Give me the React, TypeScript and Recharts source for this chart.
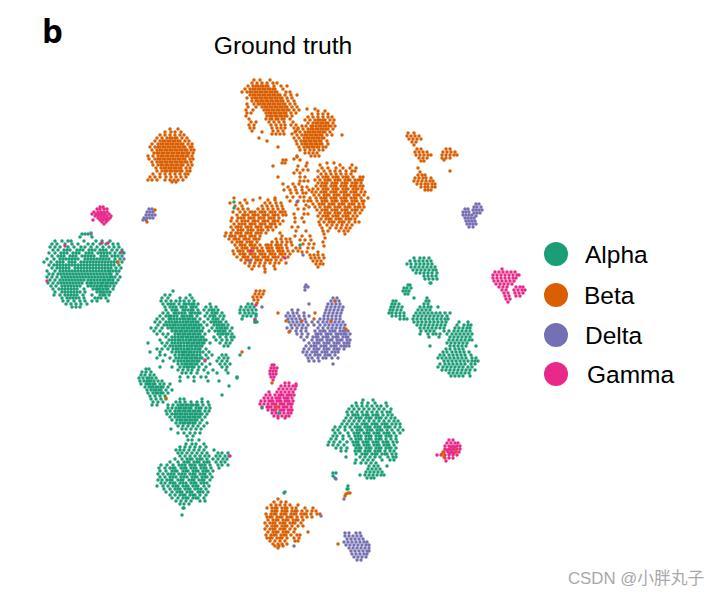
import React from "react";
import { ScatterChart, Scatter, XAxis, YAxis } from "recharts";

type Row = [number, number[]];
const spread = (groups: Row[][]) =>
  groups.flatMap((g) => g.flatMap(([y, xs]) => xs.map((x) => ({ x, y }))));

// each row: [y, [x, x, ...]]
const alphaLeft: Row[] = [
  [234, [82, 85, 88, 91]], [237, [80, 92]],
  [241, [55, 62, 68, 71, 84, 96, 102, 110]],
  [244, [52, 57, 65, 72, 78, 88, 93, 100, 106, 113, 118]],
  [247, [50, 55, 60, 68, 74, 81, 85, 91, 97, 103, 109, 114, 119]],
  [250, [53, 58, 64, 70, 77, 83, 89, 95, 100, 106, 112, 117, 122]],
  [253, [49, 55, 61, 67, 73, 79, 86, 92, 98, 104, 110, 115, 120, 124]],
  [256, [52, 58, 64, 70, 76, 82, 88, 94, 101, 107, 112, 118, 122]],
  [259, [47, 54, 60, 66, 72, 78, 85, 91, 97, 103, 109, 115, 120]],
  [262, [44, 51, 57, 63, 69, 75, 81, 87, 93, 99, 105, 111, 117, 122]],
  [265, [49, 54, 60, 66, 72, 78, 84, 90, 96, 102, 108, 114, 119]],
  [268, [52, 57, 63, 69, 75, 81, 87, 93, 99, 105, 111, 116, 121]],
  [271, [47, 55, 60, 66, 72, 78, 84, 90, 96, 102, 108, 113, 119]],
  [274, [49, 53, 58, 64, 70, 76, 82, 88, 94, 100, 106, 111, 117]],
  [277, [47, 52, 57, 62, 68, 74, 80, 86, 92, 98, 104, 110, 115, 120]],
  [280, [50, 55, 60, 66, 72, 78, 84, 91, 97, 103, 108, 113, 118]],
  [283, [48, 53, 58, 64, 70, 76, 82, 90, 95, 101, 106, 111, 116]],
  [286, [51, 56, 62, 68, 74, 80, 88, 94, 100, 105, 110, 114]],
  [289, [53, 59, 65, 71, 77, 84, 93, 98, 103, 108, 113]],
  [292, [55, 62, 68, 74, 80, 85, 97, 102, 107, 110]],
  [295, [54, 60, 65, 71, 77, 83, 92, 100, 105, 109]],
  [298, [62, 67, 73, 79, 84, 95, 101, 106]],
  [301, [63, 68, 74, 80, 85, 92, 97, 108]],
  [304, [66, 71, 76, 81, 87]],
  [307, [72, 76, 80]],
];
const alphaLeftCore: Row[] = [
  [250, [67, 80, 92, 103]], [253, [64, 76, 89, 101, 107]], [256, [61, 73, 85, 91, 104, 115]],
  [259, [63, 69, 75, 88, 94, 100, 106]], [262, [60, 72, 84, 90, 96, 102, 108, 114]],
  [265, [57, 63, 69, 75, 81, 87, 93, 99, 105, 111]], [268, [60, 66, 78, 84, 90, 96, 102, 108]],
  [271, [63, 69, 75, 81, 87, 93, 99, 105, 110, 116]], [274, [61, 67, 73, 79, 85, 91, 97, 103, 109]],
  [277, [65, 71, 77, 83, 89, 95, 101, 107, 112]], [280, [63, 69, 75, 81, 88, 94, 100, 105, 110]],
  [283, [61, 67, 73, 79, 87, 92, 98, 103, 108, 113]], [286, [65, 71, 77, 91, 97, 102, 107]],
  [289, [62, 68, 74, 96, 100, 106]], [292, [65, 71, 77, 100, 104]], [295, [68, 74, 103]], [298, [70, 76, 98]],
];
const alphaCenter: Row[] = [
  [291, [173]], [295, [165, 170, 190]], [298, [162, 168, 180, 186, 192]],
  [301, [161, 166, 171, 176, 180, 184, 189, 194]],
  [304, [163, 168, 174, 179, 184, 189, 194, 198, 210]],
  [307, [165, 170, 176, 181, 186, 191, 196, 206, 211, 216]],
  [310, [166, 172, 177, 183, 188, 193, 198, 204, 209, 214, 218]],
  [313, [163, 168, 174, 179, 185, 190, 195, 200, 207, 212, 217, 222]],
  [316, [160, 166, 171, 177, 182, 187, 192, 197, 205, 210, 215, 220, 224]],
  [319, [157, 163, 169, 174, 180, 185, 190, 195, 200, 208, 213, 218, 223]],
  [322, [155, 160, 166, 172, 177, 183, 188, 193, 198, 204, 211, 216, 221, 226]],
  [325, [158, 164, 170, 175, 181, 186, 191, 196, 201, 207, 214, 219, 224, 228]],
  [328, [151, 156, 162, 168, 173, 179, 184, 189, 194, 199, 203, 212, 217, 222, 227, 232]],
  [331, [154, 160, 172, 177, 182, 187, 192, 197, 202, 209, 215, 220, 225, 230]],
  [334, [157, 163, 168, 175, 180, 185, 190, 195, 200, 205, 218, 223, 228, 232]],
  [337, [166, 172, 178, 183, 188, 193, 198, 203, 214, 220, 226, 231, 234]],
  [340, [160, 169, 175, 180, 186, 191, 196, 201, 206, 216, 222, 227, 232]],
  [343, [148, 162, 167, 172, 178, 184, 189, 194, 199, 204, 210, 220, 226, 230]],
  [346, [165, 170, 176, 181, 187, 192, 197, 202, 224, 228]],
  [349, [157, 162, 168, 173, 178, 184, 189, 195, 200, 206]],
  [352, [150, 160, 172, 176, 182, 186, 191, 197, 203, 209]],
  [355, [160, 165, 175, 179, 184, 189, 194, 200, 206, 212, 222, 226]],
  [358, [157, 170, 176, 182, 187, 192, 197, 202, 208, 219, 224, 228]],
  [361, [163, 174, 178, 184, 189, 194, 199, 205, 217, 222, 227]],
  [364, [178, 182, 187, 192, 197, 202, 210, 220, 225, 230]],
  [367, [160, 172, 180, 184, 189, 194, 199, 206, 222, 227]],
  [370, [178, 183, 188, 192, 198, 204, 213, 226]],
  [373, [182, 186, 191, 197, 208, 217, 228]],
  [377, [180, 188, 194, 201, 206, 237]],
  [381, [180, 194, 208, 219]],
  [386, [229]], [395, [222]],
];
const alphaCenterCore: Row[] = [
  [304, [171, 186, 192]], [307, [173, 183, 193]], [310, [175, 185, 191, 212]],
  [313, [176, 182, 192, 198, 215]], [316, [169, 174, 184, 190, 213]], [319, [171, 177, 183, 188, 193, 216]],
  [322, [169, 175, 180, 186, 191, 196, 214, 219]], [325, [167, 173, 178, 184, 189, 194, 199, 217, 222]],
  [328, [171, 176, 182, 187, 192, 197, 220, 225]], [331, [175, 180, 185, 190, 195, 200, 218, 223]],
  [334, [178, 183, 188, 193, 198, 221, 226]], [337, [175, 181, 186, 191, 196, 201]],
  [340, [172, 178, 183, 189, 194, 199, 204]], [343, [175, 181, 187, 192, 197, 202]],
  [346, [173, 179, 184, 190, 195, 200]], [349, [176, 181, 187, 192, 198]],
  [352, [179, 184, 189, 194, 200]], [355, [182, 187, 192, 197]], [358, [179, 185, 190, 195, 200]],
  [361, [181, 187, 192, 197]], [364, [185, 190, 195]], [367, [187, 192]],
];
const alphaThree: Row[] = [
  [369, [146, 149]], [372, [142, 146, 151]], [375, [141, 145, 150, 154]],
  [378, [139, 143, 147, 152, 156]], [381, [140, 144, 149, 154, 158, 162]],
  [384, [141, 146, 150, 155, 160, 164, 170]], [387, [145, 149, 153, 158, 163, 168]],
  [390, [147, 151, 156, 161, 166, 172]], [393, [148, 153, 158, 163, 168]],
  [396, [150, 155, 160, 165]], [399, [151, 156, 161, 166, 180, 184, 202]],
  [402, [153, 158, 163, 176, 180, 185, 191, 197, 202, 208]],
  [405, [152, 157, 168, 173, 178, 183, 188, 193, 198, 203, 209]],
  [408, [168, 172, 176, 181, 186, 191, 196, 201, 206, 210]],
  [411, [166, 170, 175, 180, 185, 190, 195, 200, 205, 209]],
  [414, [167, 172, 177, 182, 187, 192, 197, 202, 207]],
  [417, [170, 175, 180, 185, 190, 195, 200, 205]],
  [420, [172, 177, 182, 187, 192, 197, 202]],
  [423, [176, 180, 185, 190, 195, 200, 207]],
  [426, [178, 183, 188, 193, 198, 204]],
  [429, [171, 182, 186, 191, 196, 201]],
  [433, [178, 184, 190, 195, 200]],
  [436, [187, 193]], [440, [188, 192, 199]],
  [378, [149]], [381, [147, 151]], [384, [148, 153]], [387, [151, 156, 161]], [390, [154, 159]], [393, [156, 161]],
  [405, [181, 186, 191, 196]], [408, [179, 184, 189, 199]], [411, [178, 183, 188, 193, 198]],
  [414, [175, 180, 185, 190, 195, 200]], [417, [178, 183, 188, 193, 198]], [420, [180, 185, 190, 195]], [423, [183, 188, 193]],
];
const alphaFour: Row[] = [
  [444, [186, 192, 196, 204]], [447, [180, 185, 190, 195, 200, 206]],
  [450, [176, 180, 184, 189, 194, 199, 204, 214]],
  [453, [178, 182, 187, 192, 197, 202, 207, 218, 222, 228]],
  [456, [180, 185, 190, 195, 200, 205, 209, 216, 220, 225, 229]],
  [459, [175, 182, 187, 192, 197, 202, 207, 213, 218, 223, 227]],
  [462, [170, 178, 184, 189, 194, 199, 204, 209, 216, 221, 225]],
  [465, [161, 167, 173, 179, 185, 190, 195, 200, 205, 210, 218, 222, 228]],
  [468, [159, 165, 170, 175, 181, 186, 191, 196, 201, 206, 211, 219]],
  [471, [160, 166, 172, 177, 183, 188, 193, 198, 203, 208, 213]],
  [474, [158, 163, 168, 174, 179, 185, 190, 195, 200, 205, 210]],
  [477, [160, 165, 170, 176, 181, 187, 192, 197, 202, 207, 212]],
  [480, [158, 162, 167, 172, 178, 183, 189, 194, 199, 204, 210]],
  [483, [161, 165, 170, 175, 180, 186, 191, 196, 201, 207]],
  [486, [157, 163, 168, 173, 178, 183, 188, 193, 198, 204, 209]],
  [489, [164, 170, 175, 180, 185, 190, 195, 201, 206]],
  [492, [166, 172, 177, 182, 187, 192, 198, 203, 208]],
  [495, [170, 175, 180, 185, 190, 195, 200, 206]],
  [498, [172, 178, 183, 188, 193, 198, 204]],
  [501, [176, 181, 186, 191, 200, 205]],
  [504, [180, 184, 189]], [508, [183, 184]], [515, [182]],
  [459, [190, 200]], [462, [187, 197, 207]], [465, [182, 192, 202]], [468, [173, 184, 194, 204]],
  [471, [175, 186, 196, 206]], [474, [171, 182, 193, 203]], [477, [173, 184, 195, 205]],
  [480, [170, 181, 192, 202]], [483, [173, 183, 194, 204]], [486, [176, 186, 196]], [489, [178, 188, 198]],
  [492, [180, 190, 200]], [495, [183, 193]], [498, [186, 196]],
];
const alphaSmall: Row[] = [
  [304, [248, 252]], [307, [241, 246, 250, 254]], [310, [240, 244, 248, 252, 256]],
  [313, [240, 245, 249, 253]], [316, [243, 247, 251, 256]], [319, [242, 255]], [322, [255, 257]],
];
const alphaRight: Row[] = [
  [400, [363, 373]], [403, [356, 362, 368, 375, 386]],
  [406, [352, 357, 362, 367, 372, 377, 381, 387]],
  [409, [349, 354, 359, 364, 369, 374, 379, 384, 391]],
  [412, [347, 352, 357, 362, 367, 372, 377, 382, 387, 390]],
  [415, [348, 353, 358, 363, 368, 373, 378, 383, 388, 392]],
  [418, [346, 351, 356, 361, 366, 371, 376, 381, 386, 391, 395]],
  [421, [344, 349, 354, 359, 364, 369, 374, 379, 384, 389, 394, 398]],
  [424, [342, 347, 352, 357, 362, 367, 372, 377, 382, 387, 392, 396, 400]],
  [427, [335, 340, 345, 350, 355, 360, 365, 370, 375, 380, 385, 390, 395, 400]],
  [430, [333, 338, 345, 352, 357, 362, 367, 372, 377, 382, 387, 392, 398, 403]],
  [433, [335, 340, 348, 354, 359, 364, 369, 374, 379, 384, 389, 394, 400]],
  [436, [333, 337, 343, 349, 355, 361, 366, 371, 376, 381, 386, 391, 396]],
  [439, [331, 336, 343, 351, 356, 361, 366, 371, 376, 381, 386, 391, 396]],
  [442, [329, 334, 340, 347, 353, 358, 363, 368, 373, 378, 383, 388, 393, 397]],
  [445, [328, 333, 338, 344, 354, 359, 364, 369, 374, 379, 384, 389, 394]],
  [448, [336, 341, 347, 356, 361, 366, 371, 376, 381, 386, 391, 396]],
  [451, [341, 346, 355, 360, 365, 370, 375, 380, 385, 390, 394]],
  [454, [356, 362, 367, 372, 377, 382, 387, 392, 396]],
  [457, [346, 360, 365, 370, 375, 380, 388, 393, 396]],
  [460, [356, 363, 368, 373, 382, 390, 394]],
  [463, [355, 361, 366, 371, 376]], [466, [369, 374, 378, 387]],
  [469, [368, 372, 376, 380]], [472, [366, 370, 374, 378, 382]],
  [475, [360, 365, 369, 373, 377, 381, 384]], [478, [367, 371, 374]],
  [424, [365, 375, 385]], [427, [358, 368, 378, 388]], [430, [360, 370, 380]], [433, [357, 367, 377, 387]],
  [436, [358, 369, 379, 389]], [439, [359, 369, 379]], [442, [356, 366, 376, 386]], [445, [357, 367, 377, 387]],
  [448, [359, 369, 379, 389]], [451, [358, 368, 378]], [454, [365, 375, 385]], [418, [359, 369, 379]], [415, [355, 366, 376]],
];
const alphaRightParts: Row[] = [
  [473, [333, 336]], [476, [333]], [478, [335]], [489, [347, 348]], [486, [348]],
  [258, [414, 420, 424, 429]], [261, [410, 415, 419, 423, 427, 431]],
  [264, [407, 411, 416, 420, 424, 428, 432]], [267, [411, 415, 419, 423, 427, 431, 435]],
  [270, [413, 417, 421, 425, 429, 433, 436]], [273, [416, 420, 424, 428, 432, 437]],
  [276, [424, 428, 432, 436]], [279, [425, 429, 433, 437]], [283, [430, 431]],
  [285, [408, 410]], [288, [404, 407, 411]], [291, [403, 406, 409]], [294, [405, 408]],
  [298, [427, 414]], [301, [393, 396, 426, 429]], [304, [392, 395, 399, 424, 428]],
  [307, [391, 394, 398, 402, 420, 424, 428, 431, 438]], [310, [390, 393, 397, 401, 418, 422, 426, 430]],
  [313, [389, 392, 396, 400, 404, 416, 420, 424, 428, 432, 436, 440, 445, 450]],
  [316, [392, 396, 400, 404, 414, 418, 422, 426, 430, 434, 438, 442, 447]],
  [319, [400, 404, 407, 413, 417, 421, 425, 429, 433, 437, 441, 445, 448]],
  [322, [414, 418, 422, 426, 430, 434, 438, 442, 446, 459, 468]],
  [325, [417, 421, 425, 429, 433, 437, 441, 445, 457, 464, 468, 471]],
  [328, [420, 424, 428, 432, 436, 440, 444, 455, 459, 463, 467, 470]],
  [331, [421, 426, 430, 434, 444, 449, 454, 458, 462, 466, 470]],
  [334, [420, 428, 433, 436, 440, 447, 452, 456, 460, 464, 468, 472]],
  [337, [429, 439, 450, 454, 458, 462, 466, 470]],
  [340, [449, 453, 457, 461, 465, 469, 472]], [343, [447, 451, 455, 459, 463, 467]],
  [346, [430, 450, 454, 458, 462, 466, 476]], [349, [446, 450, 455, 459, 463]],
  [352, [443, 447, 452, 456, 460, 464, 469]], [355, [440, 444, 449, 453, 457, 461, 465, 471]],
  [358, [438, 442, 446, 450, 454, 458, 462, 466, 472, 476]],
  [361, [444, 448, 452, 456, 460, 464, 468, 472, 475, 478]],
  [364, [440, 445, 449, 453, 457, 461, 465, 471, 475]],
  [367, [438, 443, 447, 451, 455, 459, 463, 468, 472]],
  [370, [442, 446, 450, 454, 458, 462, 466, 470, 475]],
  [373, [449, 453, 457, 461, 465, 469]], [376, [451, 455, 459, 463, 470]],
];

const betaTop: Row[] = [
  [80, [260, 270, 254]], [83, [252, 257, 262, 267, 273, 277]],
  [86, [248, 253, 258, 263, 268, 274, 281, 287]], [89, [245, 250, 255, 260, 265, 270, 275, 283]],
  [92, [242, 247, 252, 257, 262, 267, 272, 277, 286, 290]],
  [95, [250, 255, 260, 265, 270, 275, 280, 285, 291, 297]],
  [98, [247, 252, 257, 262, 267, 272, 277, 282, 287, 292]],
  [101, [252, 258, 263, 268, 273, 278, 283, 288, 294]],
  [104, [247, 254, 260, 265, 270, 275, 280, 285, 290, 295]],
  [107, [248, 256, 262, 267, 272, 277, 282, 287, 292, 297]],
  [110, [246, 253, 264, 269, 274, 279, 284, 289, 294, 299]],
  [113, [247, 251, 266, 271, 276, 281, 286, 291, 296]],
  [116, [246, 267, 272, 277, 282, 287, 292]], [119, [249, 266, 272, 278, 284, 290]],
  [122, [251, 256, 269, 274, 279, 284, 293]], [125, [249, 254, 271, 276, 281, 285, 291, 296]],
  [128, [250, 254, 272, 277, 281, 285, 294, 298]], [131, [252, 273, 278, 283, 296]],
  [134, [272, 276, 280, 284, 292]],
  [86, [256, 261, 266]], [89, [253, 258, 263, 268, 273]], [92, [250, 255, 260, 265, 270, 275]],
  [95, [253, 258, 263, 268, 273, 278]], [98, [255, 260, 265, 270, 275, 280]], [101, [256, 261, 266, 271, 276, 281]],
  [104, [258, 263, 268, 273, 278, 283]], [107, [265, 270, 275, 280, 285]], [110, [267, 272, 277, 282, 287]],
  [113, [269, 274, 279, 284]], [116, [270, 275, 280, 285]], [119, [270, 276, 282]],
];
const betaB: Row[] = [
  [109, [307, 315]], [111, [318, 325]], [114, [312, 318, 323, 328]],
  [117, [308, 313, 318, 323, 328, 332]], [120, [305, 310, 315, 320, 325, 330, 334]],
  [123, [308, 313, 318, 323, 328, 333]], [126, [302, 306, 311, 316, 321, 326, 331, 335]],
  [129, [298, 303, 308, 313, 318, 323, 328, 333]], [132, [295, 300, 305, 310, 315, 320, 325, 330]],
  [135, [297, 302, 307, 312, 317, 322, 327, 332, 342]], [138, [294, 299, 304, 309, 314, 319, 324]],
  [141, [296, 301, 306, 311, 316, 321, 327]], [144, [297, 302, 307, 312, 317, 322, 328]],
  [147, [299, 304, 309, 314, 319, 323, 326]], [150, [300, 305, 310, 314, 319, 323]],
  [153, [305, 309, 313, 317]], [156, [297, 311, 315, 319]], [159, [294]],
  [120, [318, 323]], [123, [316, 321, 326]], [126, [313, 319, 324, 329]], [129, [311, 316, 321, 326]],
  [132, [308, 313, 318, 323]], [135, [305, 310, 315, 320]], [138, [307, 312, 317, 322]], [141, [304, 309, 314, 319]],
  [144, [305, 310, 315, 320]], [147, [307, 312, 317]],
];
const betaLeftBlob: Row[] = [
  [129, [170, 178]], [132, [165, 171, 175, 181]], [135, [160, 165, 170, 175, 180, 184]],
  [138, [157, 162, 167, 172, 177, 182, 187]], [141, [155, 160, 165, 170, 175, 180, 185, 189]],
  [144, [152, 158, 163, 168, 173, 178, 183, 188, 192]], [147, [150, 155, 160, 165, 170, 175, 180, 185, 190, 192]],
  [150, [152, 157, 162, 167, 172, 177, 182, 187, 191, 194]], [153, [154, 159, 164, 169, 174, 179, 184, 189, 193]],
  [156, [148, 153, 158, 163, 168, 173, 178, 183, 188, 192]], [159, [149, 155, 160, 165, 170, 175, 180, 185, 190, 193]],
  [162, [152, 157, 162, 167, 172, 177, 182, 187, 191]], [165, [153, 158, 163, 168, 173, 178, 183, 188, 192]],
  [168, [156, 161, 166, 171, 176, 181, 186, 190]], [171, [157, 162, 167, 172, 177, 182, 187, 190]],
  [174, [153, 160, 165, 170, 175, 180, 185, 188]], [177, [150, 155, 160, 166, 171, 176, 181, 186]],
  [180, [148, 152, 157, 165, 170, 174, 178, 183]], [182, [172, 176]],
  [138, [170, 175]], [141, [163, 168, 173, 178]], [144, [161, 166, 171, 176, 181]], [147, [158, 163, 168, 173, 178, 183]],
  [150, [160, 165, 170, 175, 180, 185]], [153, [157, 162, 167, 172, 177, 182, 187]], [156, [161, 166, 171, 176, 181, 186]],
  [159, [158, 163, 168, 173, 178, 183]], [162, [160, 165, 170, 175, 180, 185]], [165, [161, 166, 171, 176, 181]],
  [168, [164, 169, 174, 179]], [171, [165, 170, 175, 180]],
];
const betaLarge: Row[] = [
  [163, [327, 334]], [165, [320, 340, 352]], [168, [322, 328, 336, 343, 350, 356]],
  [171, [318, 324, 330, 335, 340, 346, 352, 355]], [174, [321, 326, 331, 336, 341, 346, 351]],
  [177, [318, 323, 328, 333, 338, 343, 348, 353, 360, 363]], [180, [315, 320, 325, 330, 335, 340, 345, 350, 355, 360, 362]],
  [183, [318, 322, 327, 332, 337, 342, 347, 352, 357, 361]], [186, [316, 321, 326, 331, 336, 341, 346, 351, 356, 360, 363]],
  [189, [313, 318, 323, 328, 333, 338, 343, 348, 353, 358, 362]], [192, [312, 316, 321, 326, 331, 336, 341, 346, 351, 356, 361, 365]],
  [195, [314, 319, 324, 329, 334, 339, 344, 349, 354, 359, 364]], [198, [310, 316, 321, 326, 331, 336, 341, 346, 351, 356, 361, 368]],
  [201, [311, 317, 322, 327, 332, 337, 342, 347, 352, 357, 362, 364]], [204, [313, 319, 324, 329, 334, 339, 344, 349, 354, 359, 363]],
  [207, [309, 315, 320, 325, 330, 335, 340, 345, 350, 355, 360, 364]], [210, [317, 322, 327, 332, 337, 342, 347, 352, 357, 362]],
  [213, [320, 325, 330, 335, 340, 345, 350, 355, 360]], [216, [318, 323, 328, 333, 338, 343, 348, 353, 357]],
  [219, [321, 326, 331, 336, 341, 346, 351, 355]], [222, [319, 324, 329, 334, 339, 344, 349, 355, 359]],
  [225, [320, 327, 332, 337, 342, 347, 352]], [228, [322, 330, 336, 341, 346, 350]],
  [231, [323, 328, 339, 344, 348]], [234, [324, 345]], [238, [325]], [242, [323]], [246, [324]],
  [177, [326, 336, 346]], [180, [328, 338, 348, 358]], [183, [325, 335, 345, 355]], [186, [324, 334, 344, 354]],
  [189, [326, 336, 346, 356]], [192, [324, 334, 344, 354]], [195, [327, 337, 347, 357]], [198, [324, 334, 344, 354]],
  [201, [325, 335, 345, 355]], [204, [322, 332, 342, 352]], [207, [328, 338, 348, 358]], [210, [325, 335, 345, 355]],
  [213, [328, 338, 348]], [216, [326, 336, 346]], [219, [329, 339, 349]], [222, [332, 342]],
];
const betaRing: Row[] = [
  [198, [260, 275, 234]], [200, [253, 268, 275, 245]], [203, [230, 240, 247, 265, 270, 276, 281]],
  [206, [235, 242, 262, 267, 272, 277, 282]], [209, [238, 243, 248, 258, 263, 268, 273, 278, 283]],
  [212, [233, 240, 245, 250, 255, 260, 265, 270, 275, 280, 285]],
  [215, [237, 243, 248, 253, 258, 263, 268, 273, 278, 283, 286]],
  [218, [232, 238, 244, 249, 254, 259, 264, 269, 274, 279]],
  [221, [231, 237, 242, 248, 253, 258, 263, 268, 273, 278, 283]],
  [224, [234, 239, 245, 250, 255, 260, 265, 270, 275, 280]],
  [227, [231, 236, 241, 246, 251, 256, 261, 266, 271, 276]],
  [230, [233, 238, 243, 248, 253, 258, 263, 268, 273]],
  [233, [226, 231, 236, 241, 246, 251, 256, 261, 266, 280]],
  [236, [225, 230, 235, 240, 245, 250, 255, 260, 282]],
  [239, [229, 234, 239, 244, 249, 254, 259, 276, 281, 286, 290]],
  [242, [232, 237, 242, 247, 252, 257, 272, 277, 282, 287, 291]],
  [245, [235, 240, 245, 250, 255, 260, 266, 271, 276, 281, 286, 292]],
  [248, [237, 242, 247, 252, 257, 262, 267, 272, 277, 282, 287, 296]],
  [251, [233, 238, 243, 248, 253, 258, 263, 268, 273, 278, 283, 288, 293, 298]],
  [254, [234, 240, 245, 250, 255, 260, 265, 270, 275, 280, 285, 290]],
  [257, [237, 243, 248, 253, 258, 263, 268, 273, 278, 283, 288]],
  [260, [241, 246, 251, 256, 261, 266, 271, 276, 281]],
  [263, [245, 250, 255, 260, 265, 270, 275, 279, 286]],
  [266, [249, 254, 259, 264, 274]], [269, [252, 265, 275]], [272, [265]],
  [212, [252, 262, 272, 282]], [215, [245, 255, 265, 275]], [218, [241, 251, 261, 271]], [221, [245, 255, 265, 275]],
  [224, [242, 252, 262, 272]], [227, [238, 248, 258, 268]], [230, [241, 251, 261]], [233, [238, 248, 258]],
  [236, [232, 242, 252]], [239, [236, 246, 256]], [242, [240, 250]], [245, [242, 252, 268, 278]], [248, [245, 254, 269, 279]],
  [251, [240, 250, 260, 270, 280]], [254, [243, 252, 262, 272, 282]], [257, [245, 255, 265, 275]], [260, [248, 258, 268]],
];
const betaStray: Row[] = [
  [132, [262]], [138, [259]], [141, [267]], [147, [278]], [157, [297]], [160, [283, 286, 300]],
  [163, [282, 285, 307]], [166, [273, 298, 306]], [170, [297, 303, 308]], [173, [294, 300]],
  [177, [278, 300, 305]], [181, [300, 304, 308]], [184, [283, 293, 299]], [187, [288, 295, 302, 307]],
  [190, [284, 290, 296, 302, 309]], [193, [291, 297, 303, 306]], [197, [287, 293, 300, 304]],
  [201, [290, 298, 304, 308]], [205, [296, 306]], [209, [298, 304]], [214, [294, 304, 308]],
  [218, [295, 302]], [222, [295, 304]], [227, [292, 298]], [231, [296, 306]], [236, [295, 302, 310]],
  [240, [300, 305, 311]], [244, [303, 309, 314]], [248, [300, 308, 313]], [252, [302, 307, 318]],
  [255, [310, 314, 318, 323]], [258, [311, 315, 319, 324]], [261, [313, 317, 321]], [264, [316, 320, 323]], [267, [318]],
];
const betaRightParts: Row[] = [
  [133, [408, 414]], [136, [407, 411, 415, 419]], [139, [409, 413, 417, 421]], [142, [412, 416]], [145, [414]],
  [149, [417, 421]], [152, [415, 419, 423, 427]], [155, [416, 420, 424, 428, 431]], [158, [419, 423, 427]], [161, [421, 424]],
  [149, [446, 450]], [152, [443, 447, 451, 455]], [155, [442, 446, 450, 454, 457]], [158, [442, 446, 450]], [160, [444]],
  [171, [450]], [168, [418]], [172, [420]], [175, [418, 422, 425]], [178, [415, 419, 423, 426, 431]],
  [181, [414, 418, 422, 426, 430, 433]], [184, [417, 421, 425, 428, 432, 435]], [187, [421, 425, 428, 432, 435]], [190, [425, 428, 431]],
  [291, [256, 260, 264]], [294, [255, 259, 263]], [297, [253, 257, 261]], [300, [254, 258]], [303, [257]],
];
const betaBottom: Row[] = [
  [499, [278]], [502, [274, 281, 286]], [505, [271, 276, 280, 285, 290, 298]],
  [508, [267, 272, 277, 282, 287, 292, 296, 305, 313]], [511, [272, 277, 282, 287, 292, 297, 302, 307, 312, 316]],
  [514, [266, 271, 276, 281, 286, 291, 296, 301, 306, 311, 317, 320]], [517, [267, 272, 277, 282, 287, 292, 297, 302, 307, 312]],
  [520, [268, 273, 278, 283, 288, 293, 298, 303]], [523, [265, 270, 275, 280, 285, 290, 295, 301]],
  [526, [267, 272, 277, 282, 287, 292, 298, 303]], [529, [265, 270, 275, 280, 285, 290, 295]],
  [532, [268, 273, 278, 283, 288, 294, 308]], [535, [266, 271, 276, 281, 286, 291, 297, 300]],
  [538, [267, 272, 277, 282, 287, 294, 299]], [541, [270, 275, 280, 285, 295, 298]],
  [544, [273, 278, 282, 338, 287]], [546, [275, 279, 283]], [548, [278]],
  [508, [275, 285]], [511, [275, 285, 295]], [514, [274, 284, 294, 304]], [517, [270, 280, 290]], [520, [276, 286, 296]],
  [523, [273, 283, 293]], [526, [275, 285]], [529, [273, 283]], [532, [276, 286]], [535, [274, 284]], [538, [270, 280]],
];
const betaSmall: Row[] = [
  [493, [350, 348]], [494, [346]], [496, [345]], [352, [242]], [313, [278]],
  [454, [442]], [457, [444]], [452, [443]], [451, [456]],
  [383, [272]], [407, [277]],
  [321, [286, 302, 331]], [332, [289]], [319, [314]], [313, [315]], [301, [335]], [329, [346]],
  [398, [166]], [210, [155]], [222, [147]], [262, [118]],
];
const deltaCenter: Row[] = [
  [298, [333, 337]], [301, [331, 335, 339]], [304, [328, 332, 336, 340]], [307, [327, 331, 335, 339, 343]],
  [310, [292, 298, 326, 330, 334, 338, 342]], [313, [288, 293, 297, 304, 325, 329, 333, 337, 341]],
  [316, [286, 290, 294, 299, 304, 309, 324, 328, 332, 336, 340]], [319, [288, 292, 296, 300, 305, 320, 324, 328, 332, 336, 340]],
  [322, [289, 293, 297, 301, 306, 312, 318, 323, 327, 331, 335, 339, 343]], [325, [291, 295, 299, 303, 308, 314, 320, 325, 329, 333, 337, 341, 345]],
  [328, [287, 292, 297, 302, 306, 318, 323, 328, 332, 336, 340, 344]], [331, [290, 296, 301, 306, 315, 320, 325, 330, 335, 340, 345, 348]],
  [334, [297, 302, 308, 316, 321, 326, 331, 336, 341, 346, 350]], [337, [301, 307, 313, 318, 323, 328, 333, 338, 343, 348]],
  [340, [304, 312, 317, 322, 327, 332, 337, 342, 347, 350]], [343, [309, 314, 319, 324, 329, 334, 339, 344, 349]],
  [346, [306, 311, 316, 321, 326, 331, 336, 341, 346, 349]], [349, [304, 309, 314, 319, 324, 329, 334, 339, 344]],
  [352, [303, 307, 312, 317, 322, 327, 332, 338]], [355, [306, 310, 315, 320, 325, 330, 335]],
  [358, [308, 312, 318, 323, 338, 326, 332]], [361, [309, 314, 319]], [364, [333]],
  [331, [323, 333, 343]], [334, [318, 328, 338, 344]], [337, [316, 326, 336, 346]], [340, [320, 330, 340]],
  [343, [317, 327, 337, 347]], [346, [314, 324, 334, 344]], [349, [317, 327, 337]], [352, [315, 325, 335]], [355, [318, 328]],
];
const deltaOther: Row[] = [
  [285, [306]], [287, [305, 308]], [290, [305]], [304, [309]],
  [533, [345, 349, 356, 360]], [536, [345, 349, 353, 357, 361]], [539, [347, 351, 355, 359, 363]],
  [542, [344, 348, 352, 356, 360, 364, 367]], [545, [346, 350, 354, 358, 362, 366, 369]],
  [548, [349, 353, 357, 361, 365, 369]], [551, [351, 355, 359, 363, 367, 369]], [554, [352, 356, 360, 364, 367]],
  [557, [354, 358, 362, 366]], [560, [357, 361]],
  [204, [476, 479]], [207, [474, 477, 481]], [210, [473, 476, 479, 482]], [213, [474, 477, 480]], [216, [476]],
  [209, [465, 468]], [212, [463, 466, 469]], [215, [463, 466, 469, 472]], [218, [465, 468, 471, 474]], [221, [466, 469, 472, 475]],
  [224, [467, 470, 473, 476]], [227, [469, 473]],
  [209, [149, 152]], [212, [147, 150, 153]], [215, [146, 149, 152, 155]], [218, [144, 147, 150, 153]], [220, [143, 146]],
  [233, [91]], [259, [124]], [546, [294]], [516, [321]], [202, [297]], [261, [250]], [255, [303]],
  [307, [262]], [479, [336]], [499, [344]],
];
const gammaParts: Row[] = [
  [207, [100, 103]], [209, [97, 100, 104, 107]], [212, [94, 98, 101, 104, 107]], [214, [92, 96, 99, 102, 105, 109]],
  [216, [95, 98, 101, 104, 107, 111]], [218, [98, 101, 104, 107, 110]], [220, [100, 103, 106, 108]], [222, [102, 106]], [224, [104]], [220, [93]],
  [243, [102, 108]], [252, [122]], [281, [47]], [246, [65]],
  [272, [495, 499, 503, 507, 511, 515]], [269, [502]], [275, [493, 497, 501, 505, 509, 513, 517, 519]],
  [278, [493, 497, 501, 505, 509, 513, 516]], [281, [494, 498, 502, 506, 510, 514]], [284, [496, 500, 504, 508, 512]],
  [287, [499, 503, 507, 516, 520, 523]], [290, [502, 506, 514, 518, 522, 525]], [293, [504, 508, 515, 519, 523]],
  [296, [505, 509, 516, 520]], [299, [506, 510]], [302, [508]],
  [365, [272, 274]], [368, [271, 274, 277]], [371, [270, 273, 276]], [374, [270, 273, 276]], [377, [271, 274]], [380, [273]],
  [383, [285, 289]], [386, [281, 285, 289, 293, 296]], [389, [279, 283, 287, 291, 295]], [392, [269, 277, 281, 285, 289, 293]],
  [395, [266, 270, 275, 279, 283, 287, 291, 294]], [398, [264, 268, 272, 276, 280, 284, 288, 292]],
  [401, [261, 265, 269, 273, 277, 281, 285, 289, 293]], [404, [260, 264, 268, 272, 276, 280, 284, 288, 292]],
  [407, [262, 267, 271, 275, 279, 283, 287, 291]], [410, [268, 272, 276, 280, 284, 288, 292]],
  [413, [272, 276, 280, 284, 288, 291]], [416, [274, 278, 282, 286, 289]], [418, [278, 285]], [384, [296]],
  [398, [278, 286]], [401, [271, 279, 287]], [404, [274, 282, 290]], [407, [269, 277, 285]], [410, [274, 282, 290]], [395, [281, 289]],
  [440, [449, 453]], [443, [447, 451, 455, 458]], [446, [445, 449, 453, 457, 460]], [449, [445, 449, 453, 457, 460]],
  [452, [444, 448, 452, 456, 459]], [455, [437, 441, 445, 449, 453, 457]], [458, [445, 449, 453]], [461, [446]],
  [447, [451, 455]], [450, [447, 451, 455]], [453, [450, 454]],
  [360, [205]], [456, [230]], [251, [251]], [258, [285]], [305, [256]], [320, [255]],
];
const alphaStray: Row[] = [
  [202, [234]], [348, [249]], [355, [240]], [378, [237]], [314, [256]], [322, [255]],
  [408, [262]], [413, [279]], [245, [300]], [493, [284]], [492, [285]], [208, [234]],
];

const categories = ["Alpha", "Beta", "Delta", "Gamma"];
const colours = ["#1b9e77", "#d95f02", "#7570b3", "#e7298a"];
const series = [
  spread([alphaLeft, alphaLeftCore, alphaCenter, alphaCenterCore, alphaThree, alphaFour, alphaSmall, alphaRight, alphaRightParts]),
  spread([betaTop, betaB, betaLeftBlob, betaLarge, betaRing, betaStray, betaRightParts, betaBottom]),
  spread([deltaCenter, deltaOther]),
  spread([gammaParts]),
];
const overlays = [spread([alphaStray]), spread([betaSmall])];

const legendY = [254, 295, 335, 374];
const legendTextX = [585, 584, 585, 587];

const dot = (fill: string) => (p: any) => <circle cx={p.cx} cy={p.cy} r={1.75} fill={fill} />;

export default function App() {
  return (
    <div style={{ position: "absolute", left: 0, top: 0, width: 720, height: 596, background: "#fff" }}>
      <ScatterChart width={720} height={596} margin={{ top: 0, right: 0, bottom: 0, left: 0 }}>
        <XAxis type="number" dataKey="x" domain={[0, 720]} hide />
        <YAxis type="number" dataKey="y" domain={[0, 596]} reversed hide />
        {categories.map((c, i) => (
          <Scatter key={c} name={c} data={series[i]} shape={dot(colours[i])} isAnimationActive={false} />
        ))}
        <Scatter name="AlphaStray" data={overlays[0]} shape={dot(colours[0])} isAnimationActive={false} />
        <Scatter name="BetaStray" data={overlays[1]} shape={dot(colours[1])} isAnimationActive={false} />
        {categories.map((c, i) => (
          <g key={c}>
            <circle cx={556} cy={legendY[i]} r={12} fill={colours[i]} />
            <text x={legendTextX[i]} y={legendY[i] + 9} fontSize={24.5} fontFamily="Liberation Sans" fill="#000">
              {c}
            </text>
          </g>
        ))}
        <text x={283} y={54} textAnchor="middle" fontSize={24.7} fontFamily="Liberation Sans" fill="#000">
          Ground truth
        </text>
        <text x={42} y={43} fontSize={33} fontWeight="bold" fontFamily="Open Sans" fill="#000">
          b
        </text>
        <text x={568} y={584} fontSize={16.8} fontFamily="Liberation Sans, Noto Sans CJK SC" fill="#a8a8a8">
          CSDN @小胖丸子
        </text>
      </ScatterChart>
    </div>
  );
}
